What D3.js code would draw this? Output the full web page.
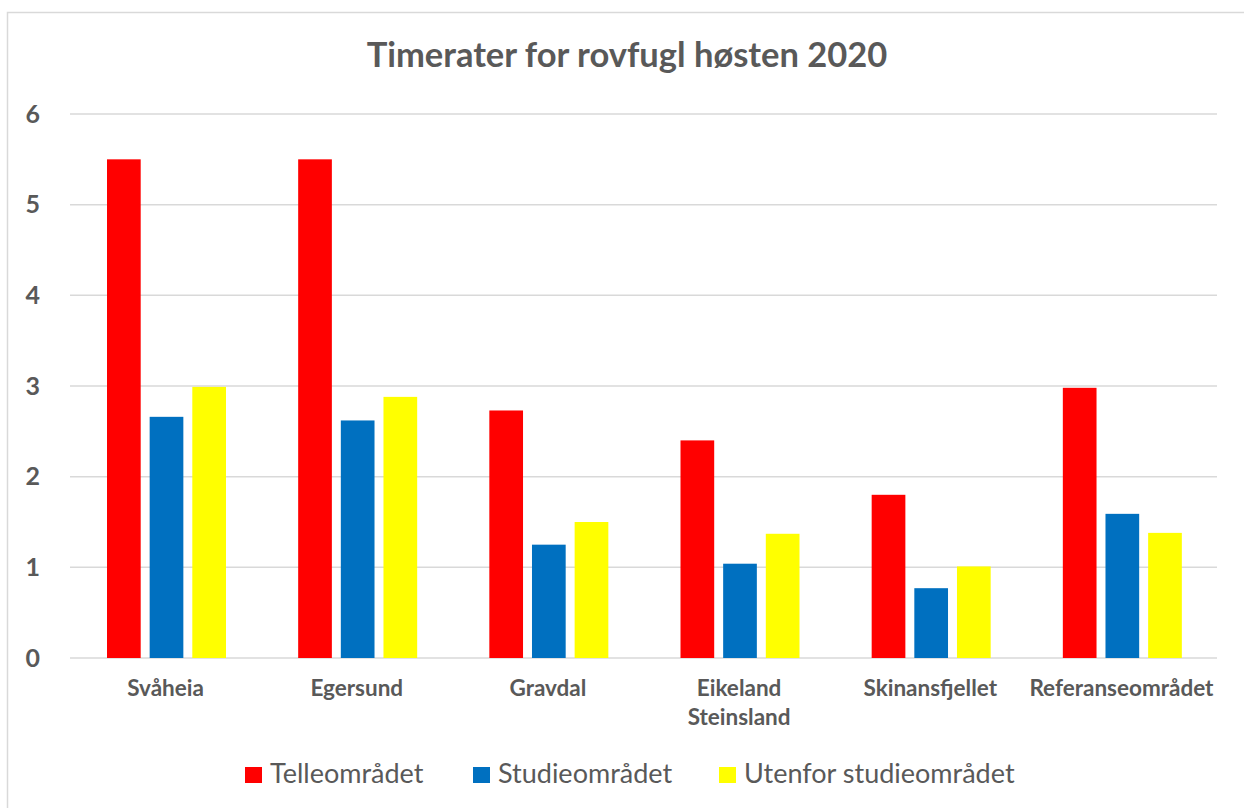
<!DOCTYPE html>
<html>
<head>
<meta charset="utf-8">
<script src="https://cdn.jsdelivr.net/npm/d3@7"></script>
<style>
  body { margin: 0; background: #fff; }
  text { font-family: Lato, "Open Sans", sans-serif; fill: #595959; }
</style>
</head>
<body>
<svg id="chart"></svg>
<script>
// data
const categories = ["Svåheia", "Egersund", "Gravdal", "Eikeland Steinsland", "Skinansfjellet", "Referanseområdet"];
const seriesNames = ["Telleområdet", "Studieområdet", "Utenfor studieområdet"];
const telle = [5.50, 5.50, 2.73, 2.40, 1.80, 2.98];
const studie = [2.66, 2.62, 1.25, 1.04, 0.77, 1.59];
const utenfor = [2.99, 2.88, 1.50, 1.37, 1.01, 1.38];
const yTicks = [0, 1, 2, 3, 4, 5, 6];
const colors = ["#ff0000", "#0070c0", "#ffff00"];

const W = 1244, H = 808;
const margin = {top: 114, right: 27, bottom: 150, left: 70};
const width = W - margin.left - margin.right,
    height = H - margin.top - margin.bottom;

const root = d3.select("#chart").attr("width", W).attr("height", H);

// outer frame
root.append("rect")
    .attr("x", 7.5).attr("y", 12.5)
    .attr("width", W + 10).attr("height", H + 10)
    .attr("fill", "none").attr("stroke", "#d9d9d9").attr("stroke-width", 1.5);

root.append("text")
    .attr("x", 627).attr("y", 67)
    .attr("text-anchor", "middle")
    .style("font-size", "34.5px").style("font-weight", "bold")
    .text("Timerater for rovfugl høsten 2020");

const svg = root.append("g")
    .attr("transform", "translate(" + margin.left + "," + margin.top + ")");

const data = categories.map(function(c, i) {
    return {cat: c, values: [telle[i], studie[i], utenfor[i]]};
});

const x0 = d3.scaleBand().domain(categories).range([0, width]);
const x1 = d3.scaleBand().domain(d3.range(3)).range([37, 156]).paddingInner(0.21).paddingOuter(0);
const y = d3.scaleLinear().domain([0, 6]).range([height, 0]);

// gridlines
svg.append("g")
    .selectAll("line")
    .data(yTicks)
    .enter().append("line")
    .attr("x1", 0).attr("x2", width)
    .attr("y1", function(d) { return y(d); })
    .attr("y2", function(d) { return y(d); })
    .attr("stroke", "#d9d9d9").attr("stroke-width", 1.5);

// y labels
const yAxis = svg.append("g")
    .call(d3.axisLeft(y).tickValues(yTicks).tickFormat(d3.format("d")).tickSize(0).tickPadding(30));
yAxis.select(".domain").remove();
yAxis.selectAll("text")
    .style("font-family", "Lato, 'Open Sans', sans-serif")
    .style("font-size", "25px").style("font-weight", "bold")
    .attr("fill", "#595959");

// bars
svg.append("g")
    .selectAll("g")
    .data(data)
    .enter().append("g")
    .attr("transform", function(d) { return "translate(" + x0(d.cat) + ",0)"; })
    .selectAll("rect")
    .data(function(d) { return d.values; })
    .enter().append("rect")
    .attr("x", function(d, i) { return x1(i); })
    .attr("width", x1.bandwidth())
    .attr("y", function(d) { return y(d); })
    .attr("height", function(d) { return height - y(d); })
    .attr("fill", function(d, i) { return colors[i]; });

// category labels
const xAxis = svg.append("g")
    .attr("transform", "translate(0," + height + ")")
    .call(d3.axisBottom(x0).tickSize(0).tickPadding(0));
xAxis.select(".domain").remove();
xAxis.selectAll("text").remove();
xAxis.selectAll(".tick").each(function(d) {
    const t = d3.select(this).append("text")
        .attr("text-anchor", "middle")
        .style("font-size", "22.5px").style("font-weight", "bold");
    const words = d === "Eikeland Steinsland" ? ["Eikeland", "Steinsland"] : [d];
    words.forEach(function(w, i) {
        t.append("tspan").attr("x", 0).attr("y", 38 + i * 29).text(w);
    });
});

// legend
const legendX = [245, 473, 719];
const legend = root.append("g").attr("transform", "translate(0,767)");
seriesNames.forEach(function(n, i) {
    legend.append("rect")
        .attr("x", legendX[i]).attr("y", 0)
        .attr("width", 17).attr("height", 16)
        .attr("fill", colors[i]);
    legend.append("text")
        .attr("x", legendX[i] + 25).attr("y", 16)
        .style("font-size", "27px")
        .text(n);
});
</script>
</body>
</html>
